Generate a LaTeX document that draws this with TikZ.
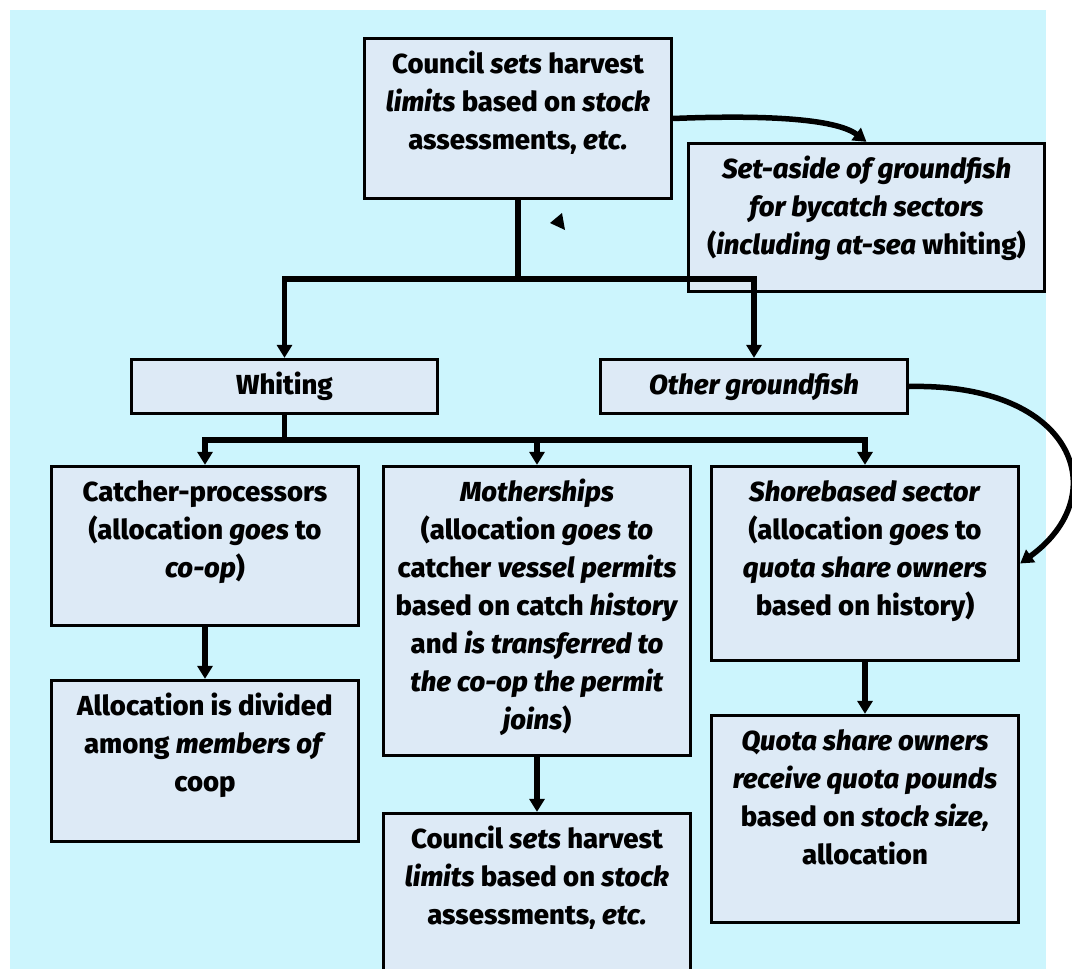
\documentclass[tikz,border=0pt]{standalone}
\usepackage{fontspec}
\setmainfont{Fira Sans}[BoldFont={Fira Sans ExtraBold},BoldItalicFont={Fira Sans ExtraBold Italic}]
\usetikzlibrary{arrows.meta}
\definecolor{bgc}{HTML}{CCF5FD}
\definecolor{boxc}{HTML}{DDEAF6}
\newcommand{\bxt}[3]{\begin{minipage}[c][#2][t]{#1}\centering\bfseries\fontsize{27.5}{38}\selectfont\rule{0pt}{35pt}#3\end{minipage}}
\tikzset{
  box/.style={draw=black, line width=3.3pt, fill=boxc, rectangle, inner sep=0pt},
  conn/.style={line width=5.5pt, draw=black},
  tip/.style={-{Triangle[length=13pt,width=15pt]}}
}
\begin{document}
\begin{tikzpicture}[x=1pt,y=-1pt]
\useasboundingbox (0,0) rectangle (1072,969);
\fill[bgc] (10,10) rectangle (1046,969);

\node[box] (top) at (518,118.5) {\bxt{307pt}{160pt}{Council \textit{sets} harvest\\ \textit{limits} based on \textit{stock}\\ assessments, \textit{etc.}}};
\node[box] (setaside) at (866.5,217.5) {\bxt{356pt}{148pt}{\textit{Set-aside of groundfish}\\ \textit{for bycatch sectors}\\ (\textit{including at-sea} whiting)}};
\node[box] (whiting) at (284.5,386.5) {\bxt{306pt}{54pt}{Whiting}};
\node[box] (other) at (754,386.5) {\bxt{307pt}{54pt}{\textit{Other groundfish}}};
\node[box] (catcher) at (205,546) {\bxt{307pt}{159pt}{Catcher-processors\\ (allocation \textit{goes} to\\ \textit{co-op})}};
\node[box] (alloc) at (205,761) {\bxt{307pt}{161pt}{Allocation is divided\\ among \textit{members of}\\ coop}};
\node[box] (mother) at (537,611) {\bxt{307pt}{289pt}{\textit{Motherships}\\ (allocation \textit{goes to}\\ catcher \textit{vessel permits}\\ based on catch \textit{history}\\ and \textit{is transferred to}\\ \textit{the co-op the permit}\\ \textit{joins})}};
\node[box] (council2) at (537,898.5) {\bxt{307pt}{170pt}{Council \textit{sets} harvest\\ \textit{limits} based on \textit{stock}\\ assessments, \textit{etc.}}};
\node[box] (shore) at (865,563.5) {\bxt{307pt}{194pt}{\textit{Shorebased sector}\\ (allocation \textit{goes} to\\ \textit{quota share owners}\\ based on history)}};
\node[box] (quota) at (865,819) {\bxt{307pt}{207pt}{\textit{Quota share owners}\\ \textit{receive quota pounds}\\ based on \textit{stock size,}\\ allocation}};

\coordinate (j1) at (518,279);
\coordinate (j2) at (284.5,440);
\draw[conn] (top.south) -- (j1);
\draw[conn,tip] (j1) -| (whiting.north);
\draw[conn,tip] (j1) -| (other.north);
\draw[conn] (whiting.south) -- (j2);
\draw[conn,tip] (j2) -| (catcher.north);
\draw[conn,tip] (j2) -| (mother.north);
\draw[conn,tip] (j2) -| (shore.north);
\draw[conn,tip] (catcher.south) -- (alloc.north);
\draw[conn,tip] (mother.south) -- (council2.north);
\draw[conn,tip] (shore.south) -- (quota.north);
\draw[conn,tip] (top.east) .. controls (760,115) and (835,118) .. (setaside.north);
\draw[conn,tip] (other.east) .. controls (1075,383) and (1115,495) .. (shore.east);
\fill[black] (550,223) -- (562,213) -- (565,230) -- cycle;
\end{tikzpicture}
\end{document}
